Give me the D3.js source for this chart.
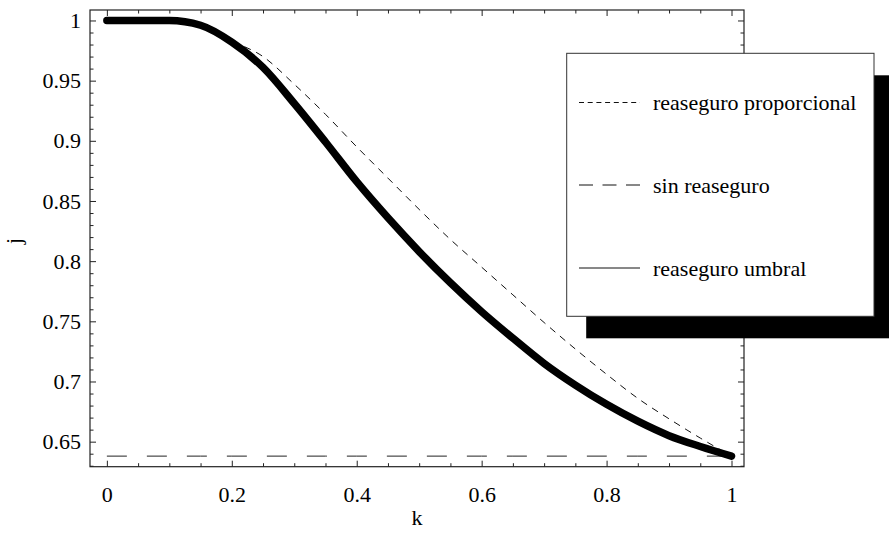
<!DOCTYPE html>
<html>
<head>
<meta charset="utf-8">
<script src="https://cdn.jsdelivr.net/npm/d3@7"></script>
<style>
  body { margin: 0; background: white; }
</style>
</head>
<body>
<div id="chart"></div>
<script>
const SVGwidth = 889;
const SVGheight = 534;
const serif = '"Liberation Serif", "Times New Roman", serif';

// data
const kValues = [0, 0.05, 0.1, 0.15, 0.2, 0.25, 0.3, 0.35, 0.4, 0.45, 0.5,
                 0.55, 0.6, 0.65, 0.7, 0.75, 0.8, 0.85, 0.9, 0.95, 1];
const umbral = [1, 1, 1, 0.996, 0.982, 0.961, 0.931, 0.899, 0.866, 0.836, 0.808,
                0.782, 0.758, 0.736, 0.715, 0.697, 0.681, 0.667, 0.655, 0.646, 0.638];
const proporcional = [1, 1, 1, 0.996, 0.983, 0.970, 0.947, 0.922, 0.895, 0.869, 0.843,
                      0.818, 0.795, 0.772, 0.749, 0.727, 0.706, 0.686, 0.669, 0.653, 0.638];
const sinReaseguro = 0.638;
const xTicks = [0, 0.2, 0.4, 0.6, 0.8, 1];
const xMinor = [0.05, 0.1, 0.15, 0.25, 0.3, 0.35, 0.45, 0.5, 0.55, 0.65, 0.7, 0.75, 0.85, 0.9, 0.95];
const yTicks = [0.65, 0.7, 0.75, 0.8, 0.85, 0.9, 0.95, 1];
const yMinor = d3.range(63, 101).map(v => v / 100).filter(v => Math.round(v * 100) % 5 !== 0);
const legendLabels = ["reaseguro proporcional", "sin reaseguro", "reaseguro umbral"];

const frameL = 90, frameR = 744, frameT = 10, frameB = 466.7;

const x = d3.scaleLinear().domain([-0.027, 1.02]).range([frameL, frameR]);
const y = d3.scaleLinear().domain([0.6292, 1.0087]).range([frameB, frameT]);

const svg = d3.select('#chart').append('svg')
  .attr('width', SVGwidth)
  .attr('height', SVGheight);

// frame ticks, pointing inward
function ticks(axis, values, size, tx, ty, label) {
  const g = svg.append('g')
    .attr('transform', `translate(${tx},${ty})`)
    .call(axis.tickValues(values).tickSizeInner(-size).tickSizeOuter(0));
  g.select('.domain').remove();
  g.selectAll('line').attr('stroke', '#222').attr('stroke-width', 1);
  if (!label) g.selectAll('text').remove();
  g.selectAll('text')
    .style('font-family', serif)
    .style('font-size', '22px')
    .attr('fill', 'black');
  return g;
}

const fmt = d => d3.format('')(d);
ticks(d3.axisBottom(x).tickFormat(fmt).tickPadding(20), xTicks, 6, 0, frameB, true);
ticks(d3.axisBottom(x), xMinor, 3.5, 0, frameB, false);
ticks(d3.axisTop(x), xTicks, 6, 0, frameT, false);
ticks(d3.axisTop(x), xMinor, 3.5, 0, frameT, false);
ticks(d3.axisLeft(y).tickFormat(fmt).tickPadding(9), yTicks, 6, frameL, 0, true);
ticks(d3.axisLeft(y), yMinor, 3.5, frameL, 0, false);
ticks(d3.axisRight(y), yTicks, 6, frameR, 0, false);
ticks(d3.axisRight(y), yMinor, 3.5, frameR, 0, false);

svg.append('rect')
  .attr('x', frameL)
  .attr('y', frameT)
  .attr('width', frameR - frameL)
  .attr('height', frameB - frameT)
  .attr('fill', 'none')
  .attr('stroke', '#222')
  .attr('stroke-width', 1.2);

// curves
const line = d3.line()
  .x((d, i) => x(kValues[i]))
  .y(d => y(d))
  .curve(d3.curveMonotoneX);

svg.append('path')
  .attr('d', line(kValues.map(() => sinReaseguro)))
  .attr('fill', 'none')
  .attr('stroke', '#222')
  .attr('stroke-width', 1)
  .attr('stroke-dasharray', '20,20');

svg.append('path')
  .attr('d', line(proporcional))
  .attr('fill', 'none')
  .attr('stroke', '#111')
  .attr('stroke-width', 1)
  .attr('stroke-dasharray', '7,6');

svg.append('path')
  .attr('d', line(umbral))
  .attr('fill', 'none')
  .attr('stroke', 'black')
  .attr('stroke-width', 7.5)
  .attr('stroke-linecap', 'round')
  .attr('stroke-linejoin', 'round');

// axis labels
svg.append('text')
  .text('k')
  .attr('x', (frameL + frameR) / 2)
  .attr('y', 525)
  .attr('text-anchor', 'middle')
  .style('font-family', serif)
  .style('font-size', '22px');

svg.append('text')
  .text('j')
  .attr('transform', 'translate(21,241) rotate(-90)')
  .attr('text-anchor', 'middle')
  .style('font-family', serif)
  .style('font-size', '22px');

// legend with shadow
const lgX = 566.7, lgY = 53.3, lgW = 307.3, lgH = 263;
svg.append('rect')
  .attr('x', lgX + 19.5)
  .attr('y', lgY + 22)
  .attr('width', lgW)
  .attr('height', lgH)
  .attr('fill', 'black');
svg.append('rect')
  .attr('x', lgX)
  .attr('y', lgY)
  .attr('width', lgW)
  .attr('height', lgH)
  .attr('fill', 'white')
  .attr('stroke', '#333')
  .attr('stroke-width', 1);

const legendRows = [102.5, 185, 268];
const legendDash = ['5,3.7', '14,9.5', null];
legendLabels.forEach((label, i) => {
  svg.append('line')
    .attr('x1', 579)
    .attr('x2', 640)
    .attr('y1', legendRows[i])
    .attr('y2', legendRows[i])
    .attr('stroke', '#111')
    .attr('stroke-width', 1)
    .attr('stroke-dasharray', legendDash[i]);
  svg.append('text')
    .text(label)
    .attr('x', 653)
    .attr('y', legendRows[i] + 7.5)
    .style('font-family', serif)
    .style('font-size', '22px');
});
</script>
</body>
</html>
